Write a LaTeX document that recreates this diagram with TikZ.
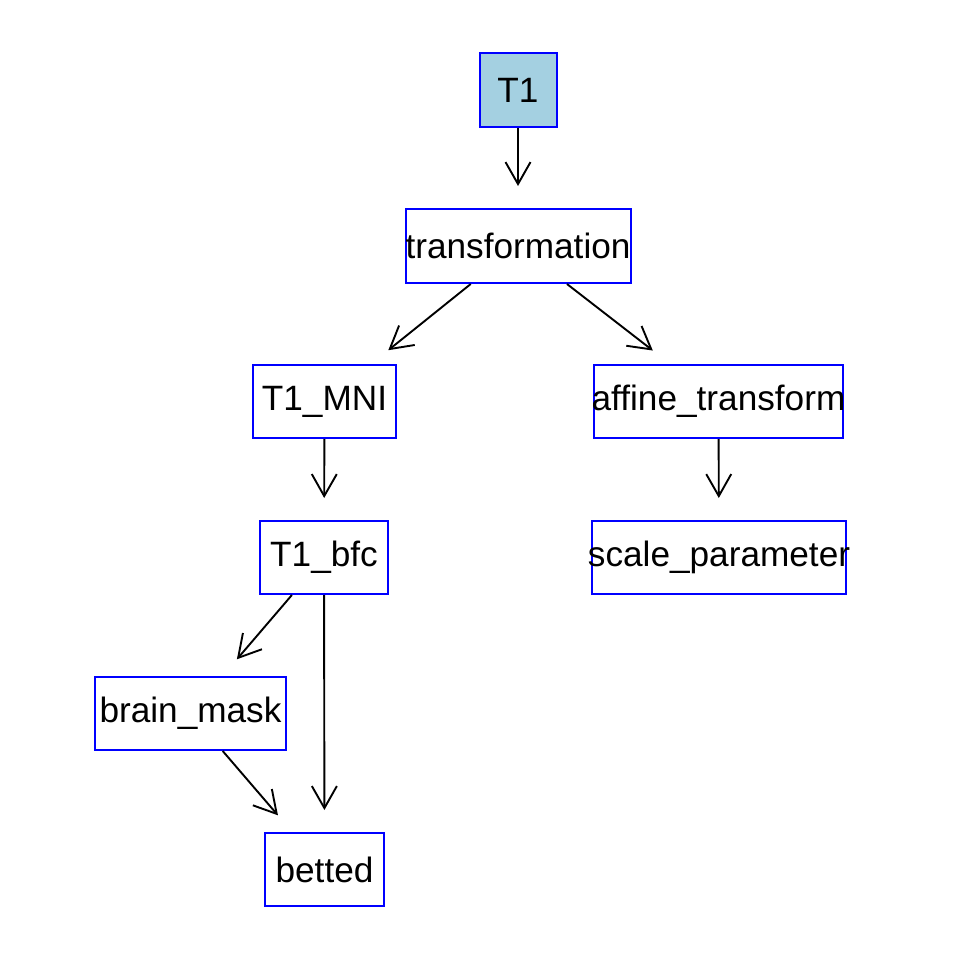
\documentclass[tikz,border=0pt]{standalone}
\usepackage{fontspec}
\setmainfont{Liberation Sans}
\usetikzlibrary{arrows.meta}
\definecolor{nodefill}{HTML}{A4D0E1}
\begin{document}
\begin{tikzpicture}[x=1pt,y=-1pt,
  vbox/.style={draw=blue,line width=2pt,rectangle,inner sep=0pt,minimum height=73pt,
    font=\fontsize{35.2}{42}\selectfont},
  arr/.style={draw=black,line width=1.9pt,shorten >=22pt,
    -{Straight Barb[length=22pt,width=25pt,line width=1.9pt]}}]
\useasboundingbox[fill=white] (0,0) rectangle (960,960);
\node[vbox,fill=nodefill,minimum width=77pt,minimum height=74.6pt] (t1) at (518,90) {\makebox[0pt]{T1}};
\node[vbox,minimum width=225pt,minimum height=74pt] (trans) at (518,246) {\makebox[0pt]{transformation}};
\node[vbox,minimum width=143pt] (tmni) at (324.5,401.5) {\makebox[0pt]{T1\_MNI}};
\node[vbox,minimum width=249pt] (aff) at (718.5,401.5) {\makebox[0pt]{affine\_transform}};
\node[vbox,minimum width=128pt] (tbfc) at (324,557.5) {\makebox[0pt]{T1\_bfc}};
\node[vbox,minimum width=254pt] (scale) at (719,557.5) {\makebox[0pt]{scale\_parameter}};
\node[vbox,minimum width=191pt] (mask) at (190.5,713.5) {\makebox[0pt]{brain\_mask}};
\node[vbox,minimum width=119pt] (betted) at (324.5,869.5) {\makebox[0pt]{betted}};
\draw[arr] (t1) -- (trans);
\draw[arr] (trans) -- (tmni);
\draw[arr] (trans) -- (aff);
\draw[arr] (tmni) -- (tbfc);
\draw[arr] (aff) -- (scale);
\draw[arr] (tbfc) -- (mask);
\draw[arr] (tbfc) -- (betted);
\draw[arr] (mask) -- (betted);
\end{tikzpicture}
\end{document}
